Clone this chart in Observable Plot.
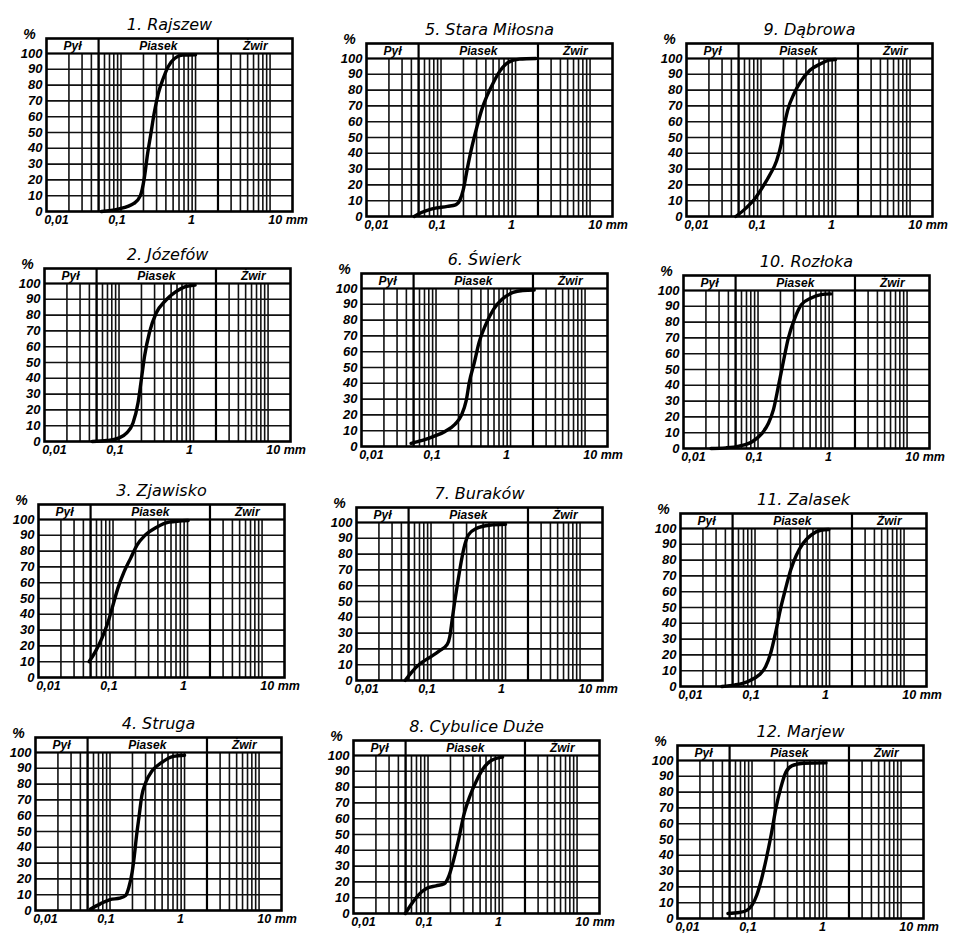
<!DOCTYPE html>
<html>
<head>
<meta charset="utf-8">
<script src="https://cdn.jsdelivr.net/npm/d3@7"></script>
<script src="https://cdn.jsdelivr.net/npm/@observablehq/plot@0.6"></script>
<style>
  body { margin: 0; background: #fff; }
  #wrap { position: relative; width: 959px; height: 936px; overflow: hidden; background: #fff; }
  #wrap svg { position: absolute; overflow: visible; background: transparent !important; }
</style>
</head>
<body>
<div id="wrap"></div>
<script>
// ---- data ----
const titles = ["1. Rajszew", "2. Józefów", "3. Zjawisko", "4. Struga",
  "5. Stara Miłosna", "6. Świerk", "7. Buraków", "8. Cybulice Duże",
  "9. Dąbrowa", "10. Rozłoka", "11. Zalasek", "12. Marjew"];

// grain diameter (mm) and cumulative percentage for each sample
const d1 = [0.0548, 0.0905, 0.149, 0.182, 0.206, 0.227, 0.251, 0.278, 0.316, 0.367, 0.427, 0.522, 0.67, 1.0];
const p1 = [0, 1.5, 5.1, 10, 21.6, 36.4, 49, 62, 74.6, 84, 91.5, 96.8, 99, 99.2];
const d2 = [0.0437, 0.0689, 0.098, 0.126, 0.154, 0.18, 0.199, 0.22, 0.256, 0.313, 0.424, 0.574, 0.777, 1.05];
const p2 = [0, 0.6, 2.1, 5.3, 11.7, 24.5, 39, 54, 69, 81, 89.4, 94.7, 98, 99];
const d3 = [0.0477, 0.058, 0.0708, 0.0862, 0.1, 0.116, 0.141, 0.172, 0.21, 0.269, 0.38, 0.564, 1.02];
const p3 = [10, 16.4, 24.8, 35.4, 45.9, 56.4, 67, 75.4, 83.8, 90, 95, 98.3, 99.4];
const d4 = [0.0548, 0.0741, 0.1, 0.135, 0.162, 0.179, 0.198, 0.212, 0.227, 0.246, 0.267, 0.301, 0.367, 0.496, 0.705, 1.0];
const p4 = [1, 4.2, 6.9, 7.8, 9.5, 14.7, 24.2, 34.7, 47.4, 60, 72.6, 81, 88.4, 93.7, 97.5, 98.3];
const d5 = [0.0437, 0.0546, 0.0738, 0.122, 0.157, 0.18, 0.199, 0.224, 0.261, 0.304, 0.353, 0.411, 0.503, 0.616, 0.793, 1.13, 1.87];
const p5 = [0, 2.5, 4.7, 6.4, 7.4, 10.6, 17, 29.7, 44.5, 57, 67.8, 76, 84.7, 92, 97.5, 99.6, 100];
const d6 = [0.0463, 0.0657, 0.0933, 0.132, 0.179, 0.218, 0.254, 0.28, 0.326, 0.379, 0.463, 0.594, 0.763, 1.08, 1.46, 2.08];
const p6 = [2, 3.8, 6.4, 9.5, 14, 19.5, 29, 40.7, 53, 66, 77, 87, 93, 97.5, 98.7, 99];
const d7 = [0.0449, 0.0548, 0.0705, 0.0951, 0.128, 0.165, 0.179, 0.192, 0.206, 0.223, 0.246, 0.277, 0.316, 0.406, 0.607, 1.0];
const p7 = [0, 5.2, 10.4, 14.5, 18.6, 22.8, 28, 38.3, 48.7, 59, 71.4, 83.9, 92, 96.3, 98.3, 98.8];
const d8 = [0.0496, 0.0607, 0.0741, 0.0951, 0.128, 0.165, 0.192, 0.223, 0.259, 0.301, 0.367, 0.449, 0.548, 0.705, 1.0];
const p8 = [0, 6.3, 11.6, 15.8, 17.5, 18.9, 24.2, 34.7, 47.4, 62, 74.7, 84.2, 91.6, 96.8, 99];
const d9 = [0.0458, 0.0628, 0.0805, 0.103, 0.132, 0.161, 0.186, 0.202, 0.227, 0.277, 0.337, 0.453, 0.641, 0.82, 1.0];
const p9 = [0, 5.3, 10.6, 18, 26.6, 35, 45.7, 56, 67, 77.7, 85, 92.5, 96.8, 99, 99.4];
const d10 = [0.0234, 0.037, 0.0555, 0.0833, 0.113, 0.138, 0.161, 0.188, 0.218, 0.254, 0.311, 0.381, 0.517, 0.701, 0.95];
const p10 = [0, 0.4, 1.5, 4.3, 9.6, 16, 24.6, 39.6, 54.6, 69.6, 82.4, 91, 95.3, 97.4, 97.9];
const d11 = [0.036, 0.0537, 0.0802, 0.114, 0.139, 0.162, 0.188, 0.218, 0.254, 0.301, 0.36, 0.44, 0.565, 0.763, 0.98];
const p11 = [0, 1, 3.2, 7.4, 12.6, 21, 33.7, 48.4, 61, 73.7, 83.2, 90.5, 95.8, 98.9, 99.4];
const d12 = [0.0475, 0.0673, 0.0862, 0.1, 0.116, 0.135, 0.156, 0.181, 0.21, 0.244, 0.284, 0.346, 0.489, 0.98];
const p12 = [3.2, 3.8, 5.3, 8.5, 14.9, 25.5, 38.3, 53.2, 70.2, 83, 92.6, 96.8, 98.3, 98.5];

const sizes = [d1, d2, d3, d4, d5, d6, d7, d8, d9, d10, d11, d12];
const pcts = [p1, p2, p3, p4, p5, p6, p7, p8, p9, p10, p11, p12];

const fractionNames = ["Pył", "Piasek", "Żwir"];
const fractionBounds = [0.01, 0.05, 2, 20];
const yTicks = [0, 10, 20, 30, 40, 50, 60, 70, 80, 90, 100];
const yGrid = [10, 20, 30, 40, 50, 60, 70, 80, 90, 100];
const xGrid = [0.02, 0.03, 0.04, 0.05, 0.06, 0.07, 0.08, 0.09, 0.1,
  0.2, 0.3, 0.4, 0.5, 0.6, 0.7, 0.8, 0.9, 1,
  2, 3, 4, 5, 6, 7, 8, 9, 10];
const xTickValues = [0.01, 0.1, 1, 10];
const xTickLabels = ["0,01", "0,1", "1", "10 mm"];

// ---- layout (frame top-left of each panel in the page) ----
const frameOrigins = [[46, 38], [44, 268], [38, 504], [35, 737],
  [366, 43], [361, 273], [356, 507], [353, 740],
  [686, 43], [683, 275], [680, 513], [677, 745]];
const ML = 50, MR = 30, MT = 40, MB = 22, FW = 246, FH = 173;
const xLabelDx = [10, -4, -4, 18];
const tickFont = "'Liberation Sans', Arial, sans-serif";

const wrap = document.getElementById("wrap");

titles.forEach((title, i) => {
  const data = sizes[i].map((d, j) => ({d, p: pcts[i][j]}));
  const fr = fractionNames.map((n, j) => ({n, x: Math.sqrt(fractionBounds[j] * fractionBounds[j + 1])}));
  const xLabelMarks = xTickValues.map((v, j) =>
    Plot.text([xTickLabels[j]], {
      x: () => v, frameAnchor: "bottom", lineAnchor: "top", dy: 4, dx: xLabelDx[j],
      fontSize: 12.5, fontWeight: "bold", fontStyle: "italic"
    }));
  const svg = Plot.plot({
    width: ML + FW + MR,
    height: MT + FH + MB,
    marginLeft: ML, marginRight: MR, marginTop: MT, marginBottom: MB,
    x: {type: "log", domain: [fractionBounds[0], fractionBounds[3]], axis: null},
    y: {domain: [0, 109.5], axis: null},
    style: {background: "transparent", overflow: "visible", fontFamily: tickFont, color: "#000"},
    marks: [
      Plot.ruleX(xGrid, {y1: 0, y2: 100, stroke: "#111", strokeWidth: 1.6}),
      Plot.ruleY(yGrid, {stroke: "#111", strokeWidth: 1.6}),
      Plot.ruleX([fractionBounds[1], fractionBounds[2]], {y1: 0, y2: 109.5, stroke: "#000", strokeWidth: 2.2}),
      Plot.ruleY([100], {stroke: "#000", strokeWidth: 2.2}),
      Plot.frame({stroke: "#000", strokeWidth: 2.6}),
      Plot.text(fr, {x: "x", y: () => 104.7, text: "n", fontSize: 12, fontWeight: "bold", fontStyle: "italic"}),
      Plot.line(data, {x: "d", y: "p", curve: "monotone-x", stroke: "#000", strokeWidth: 3.4, strokeLinecap: "round"}),
      Plot.text(yTicks, {y: d => d, text: d => String(d), frameAnchor: "left", textAnchor: "end", dx: -4,
        fontSize: 13, fontWeight: "bold", fontStyle: "italic"}),
      Plot.text(["%"], {frameAnchor: "top-left", textAnchor: "middle", lineAnchor: "middle", dx: -17, dy: -4,
        fontSize: 14, fontWeight: "bold", fontStyle: "italic"}),
      Plot.text([title], {frameAnchor: "top", lineAnchor: "bottom", dy: -9, fontSize: 16, fontStyle: "italic",
        fontWeight: "normal", fontFamily: "'DejaVu Sans', sans-serif"}),
      ...xLabelMarks
    ]
  });
  svg.style.left = (frameOrigins[i][0] - ML) + "px";
  svg.style.top = (frameOrigins[i][1] - MT) + "px";
  wrap.appendChild(svg);
});
</script>
</body>
</html>
